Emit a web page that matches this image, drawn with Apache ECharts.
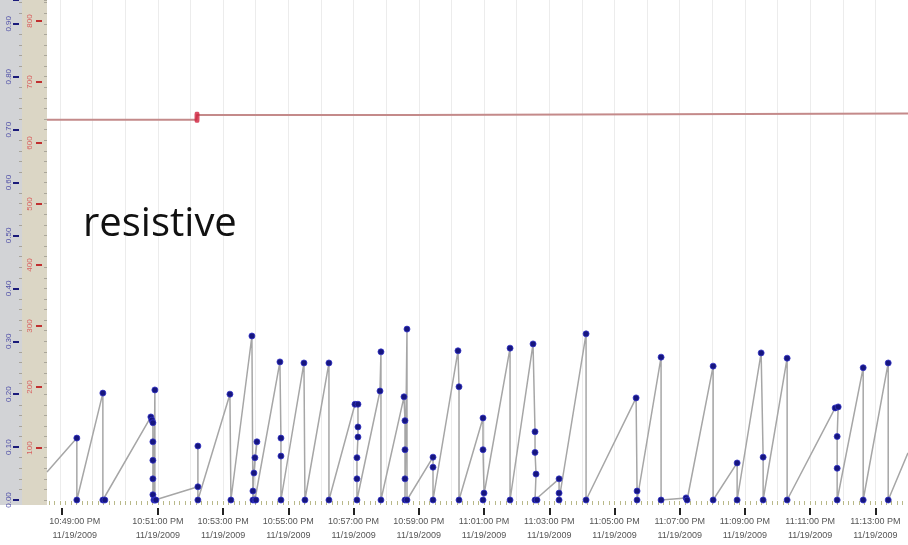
<!DOCTYPE html>
<html><head><meta charset="utf-8">
<script src="https://cdn.jsdelivr.net/npm/echarts@6/dist/echarts.min.js"></script>
<style>html,body{margin:0;padding:0;background:#fff}#c{width:908px;height:545px}</style>
</head><body><div id="c"></div>
<script>
// x values: minutes after 10:48:00 PM, 11/19/2009
const tickMinutes  = [0.05, 3, 5, 7, 9, 11, 13, 15, 17, 19, 21, 23, 25];
const labelMinutes = [0.45, 3, 5, 7, 9, 11, 13, 15, 17, 19, 21, 23, 25];
const tickTimes = ['10:49:00 PM','10:51:00 PM','10:53:00 PM','10:55:00 PM','10:57:00 PM','10:59:00 PM',
                   '11:01:00 PM','11:03:00 PM','11:05:00 PM','11:07:00 PM','11:09:00 PM','11:11:00 PM','11:13:00 PM'];
const tickDate = '11/19/2009';
const blueStep = 0.1;   // left (blue) scale tick step, 0.00 … 0.90
const redStep  = 100;   // left (red) scale tick step, 100 … 800

// resistive signal (blue axis)
const resX = [-0.40, 0.515, 0.515, 1.313, 1.313, 1.374, 2.785, 2.816, 2.847, 2.847, 2.847, 2.847, 2.847, 2.878,
  2.908, 2.908, 2.939, 4.227, 4.227, 4.227, 5.209, 5.239, 5.883, 5.914, 5.945, 6.037, 5.975, 5.914, 5.975, 6.006,
  6.742, 6.773, 6.773, 6.773, 7.479, 7.509, 8.245, 8.245, 9.043, 9.135, 9.135, 9.135, 9.104, 9.104, 9.104,
  9.810, 9.840, 9.840, 10.546, 10.577, 10.577, 10.577, 10.577, 10.638, 10.638, 11.436, 11.436, 11.436,
  12.202, 12.233, 12.233, 12.969, 12.969, 13.000, 12.969, 13.798, 13.798, 14.503, 14.564, 14.564, 14.595, 14.564, 14.625,
  15.301, 15.301, 15.301, 16.129, 16.129, 17.663, 17.693, 17.693, 18.429, 18.429, 19.196, 19.227,
  20.025, 20.025, 20.761, 20.761, 21.497, 21.558, 21.558, 22.294, 22.294, 23.767, 23.859, 23.828, 23.828, 23.828,
  24.626, 24.626, 25.393, 25.393, 26.0];
const resY = [0.053, 0.117, 0, 0.202, 0, 0, 0.157, 0.151, 0.146, 0.110, 0.075, 0.040, 0.010, 0,
  0.208, 0, 0, 0.025, 0.102, 0, 0.200, 0, 0.310, 0, 0.051, 0.110, 0.080, 0.017, 0, 0,
  0.261, 0.117, 0.083, 0, 0.259, 0, 0.259, 0, 0.181, 0.181, 0.138, 0.119, 0.080, 0.040, 0,
  0.206, 0.280, 0, 0.195, 0.150, 0.095, 0.040, 0, 0.323, 0, 0.081, 0.062, 0,
  0.282, 0.214, 0, 0.155, 0.095, 0.013, 0, 0.287, 0, 0.295, 0.129, 0.090, 0.049, 0, 0,
  0.040, 0.013, 0, 0.314, 0, 0.193, 0.017, 0, 0.270, 0, 0.004, 0,
  0.253, 0, 0.070, 0, 0.278, 0.081, 0, 0.268, 0, 0.174, 0.176, 0.120, 0.060, 0,
  0.250, 0, 0.259, 0, 0.089];

// reference level (red axis)
const refX = [-0.40, 4.18, 4.20, 10.80, 10.85, 26.0];
const refY = [638, 638, 646, 646, 648.5, 648.5];
const refMarkX = [4.20];
const refMarkY = [642];

const X_MIN = -0.4, X_MAX = 26.0;
const B_MAX = 0.945, R_MIN = 14.8, R_MAX = 834.4;

const resData = resX.map((x, i) => {
  const item = { value: [x, resY[i]] };
  if (i === 0 || i === resX.length - 1) item.symbol = 'none';
  return item;
});
const refData = refX.map((x, i) => [x, refY[i]]);
const refMarkData = refMarkX.map((x, i) => [x, refMarkY[i]]);

const minorX = [];
for (let s = Math.ceil(X_MIN * 6); s <= X_MAX * 6; s++) minorX.push(s / 6);
const minuteLines = [];
for (let m = 0; m <= 26; m++) minuteLines.push(m);

function labelFor(v) {
  let best = 0, bd = 1e9;
  labelMinutes.forEach((m, i) => { const d = Math.abs(m - v); if (d < bd) { bd = d; best = i; } });
  return tickTimes[best] + '\n' + tickDate;
}

const hiddenX = (gi) => ({ type: 'value', gridIndex: gi, min: X_MIN, max: X_MAX, show: false });
const hiddenY = (gi) => ({ type: 'value', gridIndex: gi, min: 0, max: B_MAX, show: false });

const chart = echarts.init(document.getElementById('c'), null, { renderer: 'canvas' });
chart.setOption({
  animation: false,
  backgroundColor: '#ffffff',
  title: {
    text: 'resistive', left: 78, top: 200,
    textStyle: { fontFamily: 'Open Sans', fontSize: 40, fontWeight: 'normal', color: '#111111' }
  },
  graphic: [
    { type: 'rect', z: -10, shape: { x: 0, y: 0, width: 22, height: 505 }, style: { fill: '#d2d3d6' } },
    { type: 'rect', z: -10, shape: { x: 22, y: 0, width: 25, height: 505 }, style: { fill: '#dbd6c5' } },
    { type: 'rect', z: 100, shape: { x: 30, y: 505, width: 16, height: 8 }, style: { fill: '#ffffff' } }
  ],
  grid: [
    { left: 47, right: 0, top: 0, bottom: 45 },   // 0 main plot
    { left: 19, right: 0, top: 0, bottom: 45 },   // 1 blue axis ticks/labels
    { left: 42, right: 0, top: 0, bottom: 36 },   // 2 red axis ticks/labels (0 sits just below the plot)
    { left: 47, right: 0, top: 0, bottom: 44 },   // 3 x minor ticks
    { left: 47, right: 0, top: 0, bottom: 37 }    // 4 x major ticks
  ],
  xAxis: [
    {
      type: 'value', gridIndex: 0, min: X_MIN, max: X_MAX,
      axisLine: { show: false, onZero: false },
      axisTick: { show: false, customValues: minuteLines },
      splitLine: { show: true, lineStyle: { color: '#ececec', width: 1 } },
      axisLabel: {
        customValues: labelMinutes, formatter: labelFor, margin: 15,
        fontFamily: 'Liberation Sans', fontSize: 9, color: '#555555', lineHeight: 14
      }
    },
    hiddenX(1), hiddenX(2),
    {
      type: 'value', gridIndex: 3, min: X_MIN, max: X_MAX,
      axisLine: { show: false, onZero: false },
      axisTick: { show: true, customValues: minorX, length: 4, lineStyle: { color: '#b9b98a', width: 1 } },
      axisLabel: { show: false }, splitLine: { show: false }
    },
    {
      type: 'value', gridIndex: 4, min: X_MIN, max: X_MAX,
      axisLine: { show: false, onZero: false },
      axisTick: { show: true, customValues: tickMinutes, length: 7, lineStyle: { color: '#222222', width: 2 } },
      axisLabel: { show: false }, splitLine: { show: false }
    }
  ],
  yAxis: [
    {
      type: 'value', gridIndex: 0, min: 0, max: B_MAX, interval: 0.02,
      axisLine: { show: false, onZero: false }, splitLine: { show: false }, axisLabel: { show: false },
      axisTick: { show: true, length: 3, lineStyle: { color: '#aaa69a', width: 1 } }
    },
    {
      type: 'value', gridIndex: 0, min: R_MIN, max: R_MAX, show: false
    },
    {
      type: 'value', gridIndex: 1, min: 0, max: B_MAX, interval: blueStep,
      axisLine: { show: false, onZero: false }, splitLine: { show: false },
      axisTick: { show: true, length: 6, lineStyle: { color: '#1a1a7a', width: 2 } },
      minorTick: { show: true, splitNumber: 5, length: -3, lineStyle: { color: '#a8a49a', width: 1 } },
      axisLabel: {
        rotate: 90, margin: 6, formatter: v => v.toFixed(2), showMaxLabel: false,
        fontFamily: 'Liberation Sans', fontSize: 8, color: '#5050a8'
      }
    },
    {
      type: 'value', gridIndex: 2, min: 0, max: R_MAX, interval: redStep,
      axisLine: { show: false, onZero: false }, splitLine: { show: false },
      axisTick: { show: true, length: 6, lineStyle: { color: '#c03030', width: 2 } },
      axisLabel: {
        rotate: 90, margin: 8, showMinLabel: false, showMaxLabel: false,
        fontFamily: 'Liberation Sans', fontSize: 8, color: '#d86060'
      }
    },
    hiddenY(3), hiddenY(4)
  ],
  series: [
    {
      type: 'line', name: 'reference', xAxisIndex: 0, yAxisIndex: 1, data: refData,
      showSymbol: false, lineStyle: { color: '#c48a8a', width: 2 }, z: 2
    },
    {
      type: 'scatter', name: 'ref mark', xAxisIndex: 0, yAxisIndex: 1, data: refMarkData,
      symbol: 'roundRect', symbolSize: [5, 11], itemStyle: { color: '#d0203c' }, z: 4
    },
    {
      type: 'line', name: 'resistive', xAxisIndex: 0, yAxisIndex: 0, data: resData,
      symbol: 'circle', symbolSize: 6, showAllSymbol: true,
      lineStyle: { color: '#a6a6a6', width: 1.5 },
      itemStyle: { color: '#16167e', borderColor: '#3434c8', borderWidth: 0.8 }, z: 3
    }
  ]
});
</script></body></html>
